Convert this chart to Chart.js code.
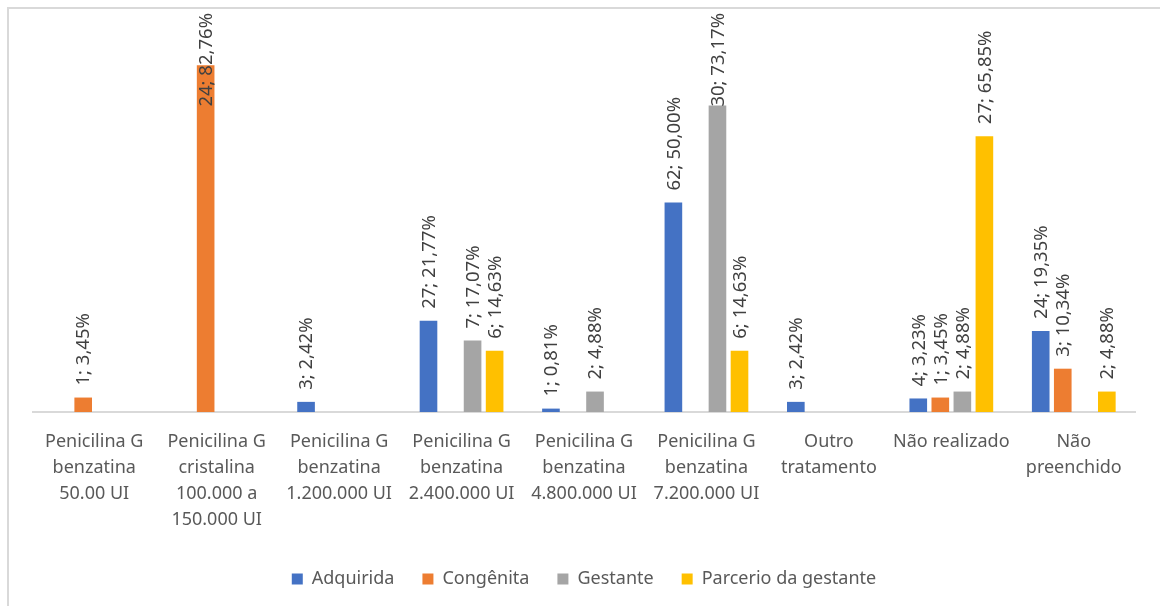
<!DOCTYPE html>
<html>
<head>
<meta charset="utf-8">
<script src="https://cdn.jsdelivr.net/npm/chart.js@4.4.1/dist/chart.umd.min.js"></script>
<style>
  html, body { margin: 0; padding: 0; background: #fff; }
  #wrap { width: 1160px; height: 606px; }
</style>
</head>
<body>
<div id="wrap"><canvas id="chart" width="1160" height="606"></canvas></div>
<script>
// categorias (eixo x)
const categories = [
  ['Penicilina G', 'benzatina', '50.00 UI'],
  ['Penicilina G', 'cristalina', '100.000 a', '150.000 UI'],
  ['Penicilina G', 'benzatina', '1.200.000 UI'],
  ['Penicilina G', 'benzatina', '2.400.000 UI'],
  ['Penicilina G', 'benzatina', '4.800.000 UI'],
  ['Penicilina G', 'benzatina', '7.200.000 UI'],
  ['Outro', 'tratamento'],
  ['Não realizado'],
  ['Não', 'preenchido']
];

// percentuais por série
const adquirida   = [null, null, 2.42, 21.77, 0.81, 50.00, 2.42, 3.23, 19.35];
const congenita   = [3.45, 82.76, null, null, null, null, null, 3.45, 10.34];
const gestante    = [null, null, null, 17.07, 4.88, 73.17, null, 4.88, null];
const parceiro    = [null, null, null, 14.63, null, 14.63, null, 65.85, 4.88];

// número de casos por série
const nAdquirida  = [null, null, 3, 27, 1, 62, 3, 4, 24];
const nCongenita  = [1, 24, null, null, null, null, null, 1, 3];
const nGestante   = [null, null, null, 7, 2, 30, null, 2, null];
const nParceiro   = [null, null, null, 6, null, 6, null, 27, 2];

const counts = [nAdquirida, nCongenita, nGestante, nParceiro];
const FONT = '"Noto Sans", sans-serif';

function fmtLabel(n, v) {
  return n + '; ' + v.toFixed(2).replace('.', ',') + '%';
}

// rótulos de dados rotacionados
const barLabels = {
  id: 'barLabels',
  afterDatasetsDraw(chart) {
    const ctx = chart.ctx;
    ctx.save();
    ctx.font = '18.5px ' + FONT;
    ctx.fillStyle = '#404040';
    ctx.textBaseline = 'middle';
    ctx.textAlign = 'left';
    chart.data.datasets.forEach((ds, di) => {
      const meta = chart.getDatasetMeta(di);
      meta.data.forEach((bar, i) => {
        const v = ds.data[i];
        if (v === null || v === undefined) return;
        const txt = fmtLabel(counts[di][i], v);
        const w = ctx.measureText(txt).width;
        let y = bar.y - 12;
        if (y - w < 13) y = 13 + w;
        ctx.save();
        ctx.translate(bar.x + 1, y);
        ctx.rotate(-Math.PI / 2);
        ctx.fillText(txt, 0, 0);
        ctx.restore();
      });
    });
    ctx.restore();
  }
};

// moldura e fundo
const frame = {
  id: 'frame',
  beforeDraw(chart) {
    const ctx = chart.ctx;
    ctx.save();
    ctx.fillStyle = '#fff';
    ctx.fillRect(0, 0, chart.width, chart.height);
    ctx.strokeStyle = '#d9d9d9';
    ctx.lineWidth = 2;
    ctx.beginPath();
    ctx.moveTo(8, chart.height);
    ctx.lineTo(8, 8);
    ctx.lineTo(chart.width, 8);
    ctx.stroke();
    ctx.restore();
  }
};

const bar = (label, data, color) => ({
  label, data, backgroundColor: color, borderWidth: 0,
  categoryPercentage: 0.72, barPercentage: 0.8
});

new Chart(document.getElementById('chart').getContext('2d'), {
  type: 'bar',
  data: {
    labels: categories,
    datasets: [
      bar('Adquirida', adquirida, '#4472C4'),
      bar('Congênita', congenita, '#ED7D31'),
      bar('Gestante', gestante, '#A5A5A5'),
      bar('Parcerio da gestante', parceiro, '#FFC000')
    ]
  },
  options: {
    responsive: false,
    animation: false,
    layout: { padding: { left: 33, right: 25, top: 35, bottom: 8 } },
    plugins: {
      tooltip: { enabled: false },
      legend: {
        position: 'bottom',
        labels: {
          boxWidth: 11, boxHeight: 11, padding: 28,
          color: '#595959',
          font: { family: FONT, size: 18 }
        }
      }
    },
    scales: {
      x: {
        grid: { display: false, drawTicks: false },
        border: { display: true, color: '#d9d9d9', width: 2 },
        ticks: {
          color: '#595959', maxRotation: 0, autoSkip: false, padding: 17,
          font: { family: FONT, size: 18, lineHeight: 26 / 18 }
        },
        afterFit(scale) { scale.height = 130; }
      },
      y: {
        display: false,
        min: 0, max: 90
      }
    }
  },
  plugins: [frame, barLabels]
});
</script>
</body>
</html>
